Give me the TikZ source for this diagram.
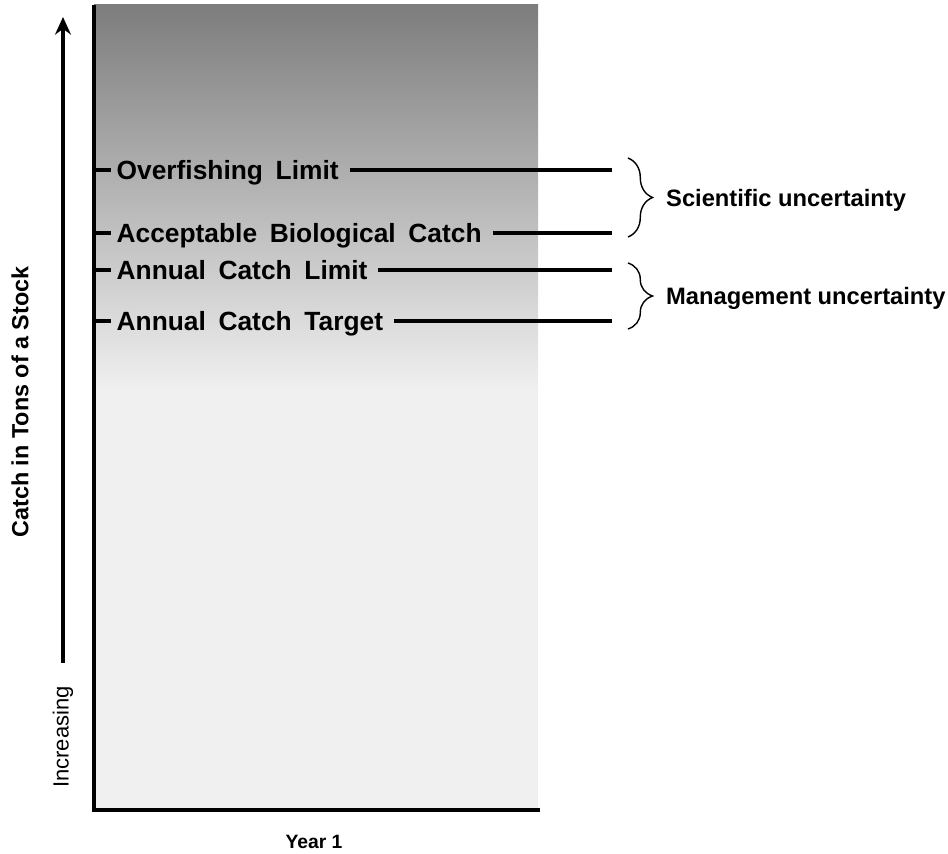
\documentclass[tikz,border=0pt]{standalone}
\usepackage{fontspec}
\setmainfont{Liberation Sans}
\usetikzlibrary{arrows.meta,decorations.pathreplacing}
\newcommand\catchfont{\bfseries\fontsize{15}{18}\selectfont\spaceskip=7.2pt\relax}
\tikzstyle{catchlabel}=[anchor=west,font=\catchfont,inner xsep=3pt,inner ysep=0pt,text height=10.7pt,text depth=0pt]
\tikzstyle{catchline}=[draw,line width=2.2pt]
\tikzstyle{uncbrace}=[draw,line width=0.8pt,decorate,decoration={brace,amplitude=14pt}]
\tikzstyle{unclabel}=[anchor=west,font=\bfseries\fontsize{13.5}{16}\selectfont,text height=9.7pt,text depth=0pt]

\begin{document}
\begin{tikzpicture}[x=0.02cm,y=-0.02cm]
    \useasboundingbox (0,0) rectangle (948,854);
    % First we draw the shaded year box
    \fill[black!6] (94,5) rectangle (538,810);
    \shade[top color=black!51,bottom color=black!6] (94,5) rectangle (538,390);
    % Axes of the box
    \coordinate (ytop) at (94,5);
    \coordinate (origin) at (94,810);
    \coordinate (xend) at (540,810);
    \draw[line width=1.8pt] (ytop) -- (origin) -- (xend);
    % Increasing arrow and axis texts
    \coordinate (arrow-start) at (63,663);
    \coordinate (arrow-end) at (63,17);
    \draw[line width=2pt,-{Stealth[length=10pt,width=9pt]}] (arrow-start) -- (arrow-end);
    \node[rotate=90,font=\bfseries\fontsize{13.3}{16}\selectfont] (ylabel) at (20,402) {Catch in Tons of a Stock};
    \node[rotate=90,font=\fontsize{12.5}{15}\selectfont] (incr) at (63,737) {Increasing};
    \node[font=\bfseries\fontsize{11}{13}\selectfont] (xlabel) at (314,842) {Year 1};
    % Catch levels with their lines
    \foreach \y/\name/\text in {170/ofl/Overfishing Limit, 233/abc/Acceptable Biological Catch,
                                270/acl/Annual Catch Limit, 321/act/Annual Catch Target}
    {
        \node[catchlabel] (\name) at (111,\y) {\text};
        \coordinate (\name-tick) at (96,\y);
        \coordinate (\name-end) at (612,\y);
        \path[catchline] (\name-tick) -- (\name.west);
        \path[catchline,shorten <=3pt] (\name.east) -- (\name-end);
    }
    % Braces for the uncertainties
    \coordinate (sci-top) at (628,158);
    \coordinate (sci-bot) at (628,237);
    \coordinate (mgt-top) at (628,263);
    \coordinate (mgt-bot) at (628,329);
    \path[uncbrace] (sci-top) -- node[unclabel,xshift=18pt] (sci) {Scientific uncertainty} (sci-bot);
    \path[uncbrace] (mgt-top) -- node[unclabel,xshift=18pt] (mgt) {Management uncertainty} (mgt-bot);
\end{tikzpicture}
\end{document}
